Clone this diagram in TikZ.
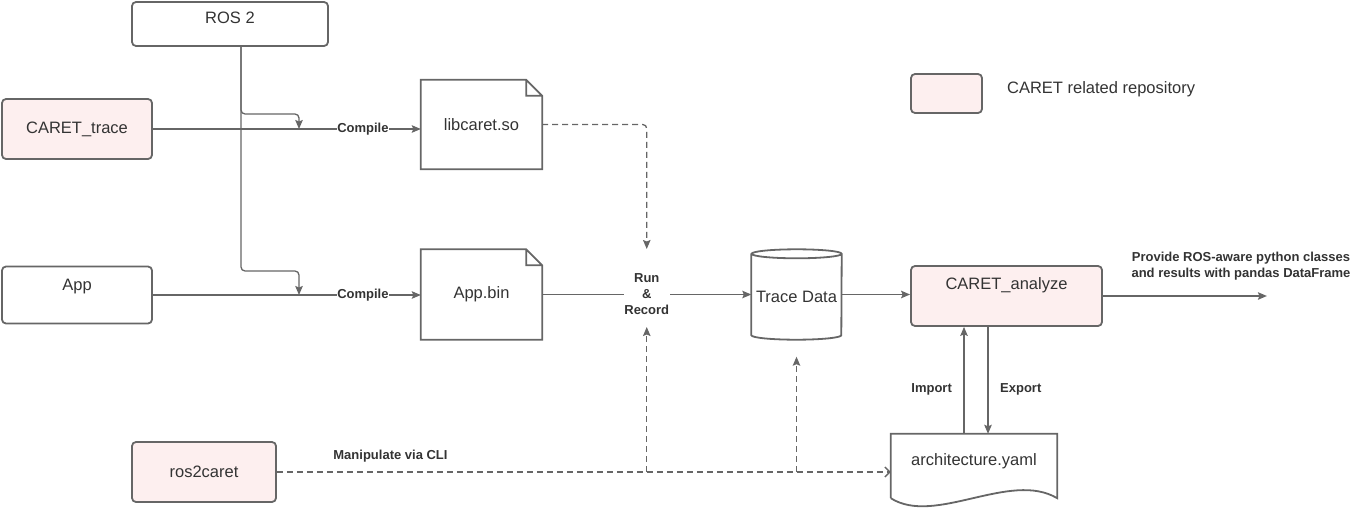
\documentclass[tikz,border=0pt]{standalone}
\usepackage{fontspec}
\setmainfont{Liberation Sans}
\usetikzlibrary{arrows.meta,positioning}
\definecolor{edge}{HTML}{666666}
\definecolor{ink}{HTML}{333333}
\definecolor{repofill}{HTML}{FDEFEF}

\begin{document}
\begin{tikzpicture}[x=1pt, y=-1pt,
	every node/.style={text=ink, font=\fontsize{16.5pt}{19pt}\selectfont},
	box/.style={draw=edge, line width=1.8pt, rounded corners=4pt, fill=white, inner sep=0pt},
	repo/.style={box, fill=repofill},
	shell/.style={inner sep=0pt}, % outline drawn by hand below
	outline/.style={draw=edge, line width=1.8pt},
	wire/.style={draw=edge, line width=1.3pt, -{Stealth[length=9pt, width=7.5pt, inset=1.5pt]}},
	dashwire/.style={wire, dash pattern=on 6pt off 4pt},
	tag/.style={font=\fontsize{13pt}{16pt}\selectfont\bfseries, inner sep=0.5pt, align=center},
	toplabel/.style 2 args={label={[anchor=north, yshift=#2, inner sep=0pt]north:#1}}
	]
	\useasboundingbox (0,0) rectangle (1354,511);
	
	% sources
	\node[box, minimum width=196pt, minimum height=44pt, toplabel={ROS 2}{-11pt}] (ros) at (230,24) {};
	\node[repo, minimum width=150pt, minimum height=60pt] (trace) at (77,129) {CARET\_trace};
	\node[box, minimum width=150pt, minimum height=57pt, toplabel={App}{-13pt}] (app) at (77,295) {};
	\node[repo, minimum width=144pt, minimum height=60pt] (ros2caret) at (204,472) {ros2caret};
	
	% build products
	\node[shell, minimum width=121pt, minimum height=89pt] (libcaret) at (481.5,124.5) {libcaret.so};
	\node[shell, minimum width=121pt, minimum height=90pt] (appbin) at (481.5,294.5) {App.bin};
	\foreach \n in {libcaret, appbin}
		\draw[outline] (\n.north west) -- ([xshift=-16pt]\n.north east) -- ([yshift=-16pt]\n.north east) -- (\n.south east) -- (\n.south west) -- cycle
			([xshift=-16pt]\n.north east) |- ([yshift=-16pt]\n.north east); % folded corner
	
	% trace data (cylinder)
	\node[shell, minimum width=90pt, minimum height=90pt, toplabel={Trace Data}{-42pt}] (tdata) at (796.5,294.5) {};
	\draw[outline] ([yshift=-4.5pt]tdata.north west) -- ([yshift=4.5pt]tdata.south west)
		arc[start angle=180, end angle=360, x radius=45pt, y radius=4.5pt] -- ([yshift=-4.5pt]tdata.north east)
		arc[start angle=0, end angle=180, x radius=45pt, y radius=4.5pt]
		arc[start angle=180, end angle=360, x radius=45pt, y radius=4.5pt];
	
	% analysis
	\node[repo, minimum width=191pt, minimum height=60pt, toplabel={CARET\_analyze}{-12pt}] (analyze) at (1006.5,296) {};
	\node[shell, minimum width=166pt, minimum height=64pt, toplabel={architecture.yaml}{-20pt}] (yaml) at (974,466) {};
	\draw[outline] (yaml.south west) -- (yaml.north west) -- (yaml.north east) -- (yaml.south east)
		.. controls ([xshift=-47pt, yshift=28pt]yaml.south east) and ([xshift=44pt, yshift=-28pt]yaml.south west) .. (yaml.south west); % wavy bottom
	
	% legend
	\node[repo, minimum width=71pt, minimum height=39pt] (legend) at (946.5,93.5) {};
	\node[right=24pt of legend, yshift=4.5pt, inner sep=0pt] (legendtext) {CARET related repository};
	
	% compile
	\coordinate (jtrace) at (299,129);
	\coordinate (japp) at (299,295);
	\draw[wire, rounded corners=4pt] ([xshift=11pt]ros.south) |- ([yshift=15pt]jtrace) -- (jtrace);
	\draw[wire, rounded corners=4pt] ([xshift=11pt]ros.south) |- ([yshift=24pt]japp) -- (japp);
	\draw[wire] (trace.east) -- node[tag, fill=white, pos=0.784] (compile1) {Compile} (trace.east -| libcaret.west);
	\draw[wire] (app.east) -- node[tag, fill=white, pos=0.784] (compile2) {Compile} (app.east -| appbin.west);
	
	% run & record
	\draw[wire] (appbin.east) -- node[tag, fill=white] (run) {Run\\\&\\Record} (appbin.east -| tdata.west);
	\coordinate (runtop) at (run.center |- 0,249);
	\coordinate (runbot) at (run.center |- 0,327);
	\draw[dashwire, rounded corners=4pt] (libcaret.east) -| (runtop);
	\draw[wire] (tdata.east) -- (tdata.east -| analyze.west);
	
	% ros2caret
	\draw[dashwire, -{Straight Barb[length=5pt, width=10pt]}] (ros2caret.east) -- node[tag, pos=0.185, above=9pt] (cli) {Manipulate via CLI} (ros2caret.east -| yaml.west);
	\draw[dashwire] (run.center |- ros2caret.east) -- (runbot);
	\draw[dashwire] (tdata.south |- ros2caret.east) -- ([yshift=-17pt]tdata.south);
	
	% import / export
	\draw[wire] ([xshift=-10pt]yaml.north) -- node[tag, pos=0.42, left=11pt] (import) {Import} ([xshift=-10pt]yaml.north |- analyze.south);
	\draw[wire] ([xshift=14pt]yaml.north |- analyze.south) -- node[tag, pos=0.58, right=11pt] (export) {Export} ([xshift=14pt]yaml.north);
	
	% output
	\coordinate[right=164pt of analyze.east] (outend);
	\draw[wire] (analyze.east) -- (outend);
	\node[tag] (provide) at (1241,266) {Provide ROS-aware python classes\\and results with pandas DataFrame};
	
\end{tikzpicture}
\end{document}
